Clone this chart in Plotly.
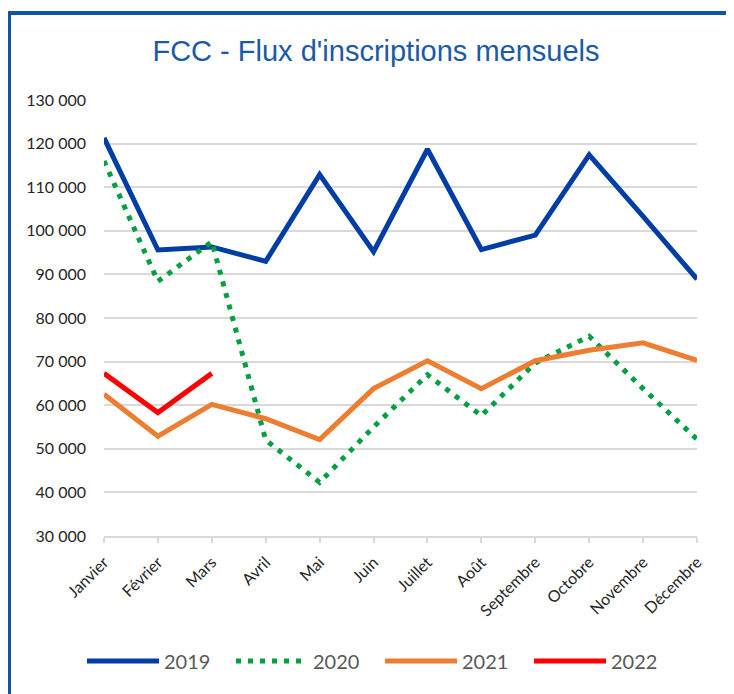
import plotly.graph_objects as go

months = ["Janvier", "Février", "Mars", "Avril", "Mai", "Juin", "Juillet",
          "Août", "Septembre", "Octobre", "Novembre", "Décembre"]
y2019 = [121300, 95600, 96300, 93000, 112900, 95200, 118700, 95700, 99000, 117400, 103300, 88900]
y2020 = [116000, 88400, 97500, 52000, 42300, 55000, 67000, 57600, 69700, 75800, 63800, 52200]
y2021 = [62500, 52900, 60200, 56900, 52100, 63800, 70200, 63800, 70200, 72600, 74300, 70300]
y2022 = [67300, 58300, 67300]
y_ticks = list(range(30000, 130001, 10000))
y_tick_text = [f"{v:,}".replace(",", " ") for v in y_ticks]

fig = go.Figure()
fig.add_trace(go.Scatter(x=months, y=y2019, name="2019", mode="lines",
                         line=dict(color="#003DA5", width=5)))
fig.add_trace(go.Scatter(x=months, y=y2020, name="2020", mode="lines",
                         line=dict(color="#00A040", width=5, dash="5px,7px")))
fig.add_trace(go.Scatter(x=months, y=y2021, name="2021", mode="lines",
                         line=dict(color="#ED7D31", width=5)))
fig.add_trace(go.Scatter(x=months[:3], y=y2022, name="2022", mode="lines",
                         line=dict(color="#FF0000", width=5)))

# page body has an 8px margin; work in page pixels and subtract it
OFF = 8
W, H = 734 - OFF, 694 - OFF
L = 104 - OFF
T = 100 - OFF
R = W - (697 - OFF)
B = H - (536 - OFF)
pw, ph = W - L - R, H - T - B


def px_x(px):
    return (px - OFF - L) / pw


def px_y(py):
    return (H - B - (py - OFF)) / ph


fig.update_layout(
    width=W, height=H,
    margin=dict(l=L, r=R, t=T, b=B, autoexpand=False),
    paper_bgcolor="white", plot_bgcolor="white",
    title=dict(text="FCC - Flux d'inscriptions mensuels", x=(376 - OFF) / W, xref="container",
               xanchor="center", y=1 - (51 - OFF) / H, yanchor="middle",
               font=dict(family="Liberation Sans, Arial", size=29, color="#1A5AA8")),
    xaxis=dict(type="category", range=[0, 11], showgrid=False,
               showline=True, linecolor="#D9D9D9", linewidth=1.5,
               ticks="outside", ticklen=5, tickcolor="#D9D9D9", tickwidth=1.5,
               ticklabelstandoff=4,
               tickangle=-45, tickfont=dict(family="Lato", size=16, color="#262626")),
    yaxis=dict(range=[30000, 130000], tickvals=y_ticks, ticktext=y_tick_text,
               showgrid=True, gridcolor="#D9D9D9", gridwidth=1.5,
               zeroline=False, showline=False, ticks="", ticklabelstandoff=17,
               tickfont=dict(family="Lato", size=16, color="#262626")),
    legend=dict(orientation="h", x=px_x(380), xanchor="center", y=px_y(661),
                yanchor="middle", itemwidth=72, entrywidth=62,
                font=dict(family="Lato", size=20, color="#595959")),
    shapes=[dict(type="rect", xref="paper", yref="paper",
                 x0=px_x(9), x1=px_x(780), y0=px_y(13), y1=px_y(760),
                 line=dict(color="#0D56A5", width=4), layer="below")],
)

fig.write_html("out.html")
